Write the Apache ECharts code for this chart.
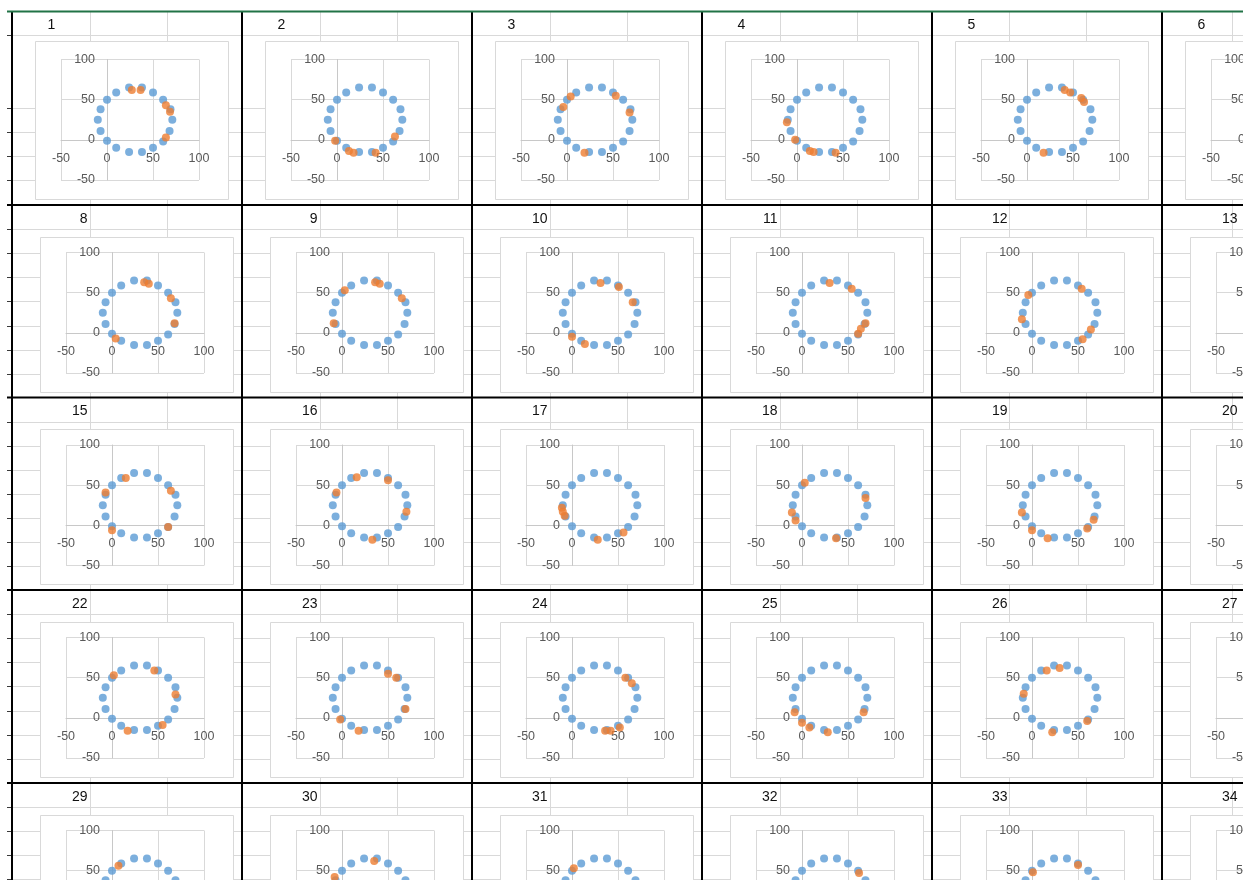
<!DOCTYPE html>
<html>
<head>
<meta charset="utf-8">
<script src="https://cdn.jsdelivr.net/npm/echarts@6/dist/echarts.min.js"></script>
<style>
  html, body { margin: 0; padding: 0; background: #ffffff; }
  #main { width: 1243px; height: 880px; }
</style>
</head>
<body>
<div id="main"></div>
<script>
// ---- data -------------------------------------------------------------
// Tick values shared by both axes of every small chart
const axisTicks = [-50, 0, 50, 100];

// The reference ring of 18 points drawn in every chart
const ringX = [0, 10, 24, 38, 50, 61, 68, 71, 69, 61, 50, 38, 24, 10, 0, -7, -10, -7];
const ringY = [-1, -10, -15, -15, -10, -2, 11, 25, 38, 50, 59, 65, 65, 59, 50, 38, 25, 11];

// Chart numbers, one row of the sheet per line
const chartNumbers = [
  [1, 2, 3, 4, 5, 6],
  [8, 9, 10, 11, 12, 13],
  [15, 16, 17, 18, 19, 20],
  [22, 23, 24, 25, 26, 27],
  [29, 30, 31, 32, 33, 34]
];

// Highlighted samples of each chart, [x, y]
const picks01 = [[27, 62], [36.5, 62], [64, 43], [68.5, 35], [64, 3]];
const picks02 = [[-2, -1], [13, -14], [18, -16], [42, -16], [63, 4]];
const picks03 = [[4, 54], [-4, 41], [53, 55], [68, 34], [19, -16]];
const picks04 = [[-11, 22], [-2, 0], [14, -14], [18, -15], [42, -16]];
const picks05 = [[41, 62], [47, 59], [59, 52], [62, 47], [18, -16]];
const picks06 = [];
const picks08 = [[35, 63], [40, 61], [64, 43], [68, 12], [4, -7]];
const picks09 = [[3, 53], [36, 63], [41, 61], [65, 43], [-9, 12]];
const picks10 = [[31, 62], [51, 57], [66, 38], [0, -5], [14, -14]];
const picks11 = [[30, 62], [54, 55], [69, 12], [64, 5], [61, -1]];
const picks12 = [[-4, 47], [-11, 17], [54, 55], [64, 4], [55, -8]];
const picks13 = [];
const picks15 = [[15, 59], [-7, 41], [64, 43], [61, -2], [0, -6]];
const picks16 = [[16, 60], [50, 56], [-6, 41], [70, 17], [33, -18]];
const picks17 = [[-11, 22], [-10, 17], [-8, 12], [56, -9], [28, -18]];
const picks18 = [[3, 53], [69, 34], [-11, 16], [-7, 6], [37, -16]];
const picks19 = [[-11, 16], [0, -6], [17, -16], [60, -4], [67, 7]];
const picks20 = [];
const picks22 = [[2, 53], [46, 59], [69, 29], [55, -9], [17, -16]];
const picks23 = [[50, 55], [59, 50], [69, 11], [-2, -2], [18, -16]];
const picks24 = [[58, 50], [65, 43], [36, -16], [42, -16], [52, -12]];
const picks25 = [[-8, 7], [0, -6], [8, -12], [28, -18], [67, 7]];
const picks26 = [[16, 59], [30, 62], [-9, 30], [60, -4], [22, -18]];
const picks27 = [];
const picks29 = [[7, 56]];
const picks30 = [[35, 62], [-8, 42]];
const picks31 = [[2, 53]];
const picks32 = [[62, 47]];
const picks33 = [[1, 48], [50, 57]];
const picks34 = [];

const picksByChart = {
  1: picks01, 2: picks02, 3: picks03, 4: picks04, 5: picks05, 6: picks06,
  8: picks08, 9: picks09, 10: picks10, 11: picks11, 12: picks12, 13: picks13,
  15: picks15, 16: picks16, 17: picks17, 18: picks18, 19: picks19, 20: picks20,
  22: picks22, 23: picks23, 24: picks24, 25: picks25, 26: picks26, 27: picks27,
  29: picks29, 30: picks30, 31: picks31, 32: picks32, 33: picks33, 34: picks34
};

// ---- sheet layout -----------------------------------------------------
const W = 1243, H = 880;
const blockLeft = [12, 242, 472, 702, 932, 1162];
const blockTop = [12, 205, 397.5, 590, 783];
const colLines = [[78, 155], [78, 155], [78, 155], [78, 155], [77, 154], [70, 147]];

const GRID_LINE = '#d9d9d9';
const THICK = '#000000';
const FONT = '"Liberation Sans", Arial, sans-serif';

const elements = [];
const px = v => Math.round(v) + 0.5;

function hLine(y, x1, x2, color, width, z) {
  elements.push({ type: 'line', silent: true, z: z,
    shape: { x1: x1, y1: y, x2: x2, y2: y },
    style: { stroke: color, lineWidth: width } });
}
function vLine(x, y1, y2, color, width, z) {
  elements.push({ type: 'line', silent: true, z: z,
    shape: { x1: x, y1: y1, x2: x, y2: y2 },
    style: { stroke: color, lineWidth: width } });
}

// spreadsheet cell lines
blockTop.forEach((bt, r) => {
  const rows = r === 0 ? [23, 96, 120, 144, 168] : [24.1, 48.2, 72.3, 96.4, 120.5, 144.6, 168.7];
  rows.forEach(dy => {
    const y = px(bt + dy);
    hLine(y, 12, W, GRID_LINE, 1, -30);
    hLine(y, 7, 12, '#3a3a3a', 1, -5);
  });
});
blockLeft.forEach((bl, c) => {
  colLines[c].forEach(dx => vLine(px(bl + dx), 12, H, GRID_LINE, 1, -30));
});

// heavy block borders and the top rule
blockLeft.forEach(bl => vLine(bl, 12, H, THICK, 2, 5));
blockTop.slice(1).forEach(bt => hLine(bt, 7, W, THICK, 2, 5));
hLine(11.5, 7, W, '#217346', 2, 6);

// ---- charts -----------------------------------------------------------
const grids = [], xAxes = [], yAxes = [], series = [];
const plotW = 138, plotH = 120.5;
const axMin = axisTicks[0], axMax = axisTicks[axisTicks.length - 1];
// the axes cross at zero, so shift each axis inward from the plot edge
const xAxisShift = -plotH * (0 - axMin) / (axMax - axMin);
const yAxisShift = -plotW * (0 - axMin) / (axMax - axMin);

chartNumbers.forEach((row, r) => {
  row.forEach((num, c) => {
    const idx = grids.length;
    const bl = blockLeft[c], bt = blockTop[r];
    const plotLeft = bl + (r === 0 ? 49 : 54);
    const plotTop = bt + 47.5;

    // chart area frame
    const boxTop = bt + (r === 0 ? 29 : 31.5);
    const boxLeft = plotLeft - 26;
    elements.push({ type: 'rect', silent: true, z: -20,
      shape: { x: px(boxLeft), y: px(boxTop), width: Math.round(plotW + 54.5), height: Math.round(bt + 186.5 - boxTop) },
      style: { fill: '#ffffff', stroke: GRID_LINE, lineWidth: 1 } });

    // chart number in the sheet cell
    elements.push({ type: 'text', silent: true, z: 4,
      x: r === 0 ? bl + 39.5 : bl + 75.5,
      y: r === 0 ? bt + 12.7 : bt + 14,
      style: { text: String(num), fill: '#111111', fontSize: 14, fontFamily: FONT,
        textAlign: r === 0 ? 'center' : 'right', textVerticalAlign: 'middle' } });

    grids.push({ left: plotLeft, top: plotTop, width: plotW, height: plotH,
      outerBoundsMode: 'none', containLabel: false });

    const axisCommon = {
      gridIndex: idx, type: 'value',
      min: axMin, max: axMax,
      interval: axisTicks[1] - axisTicks[0],
      axisLine: { onZero: false, lineStyle: { color: '#c8c8c8', width: 1 } },
      axisTick: { show: false },
      splitLine: { show: true, lineStyle: { color: GRID_LINE, width: 1 } },
      axisLabel: { color: '#595959', fontSize: 12.5, fontFamily: FONT, margin: 12,
        showMinLabel: true, showMaxLabel: true, hideOverlap: false }
    };
    xAxes.push(Object.assign({}, axisCommon, { position: 'bottom', offset: xAxisShift }));
    yAxes.push(Object.assign({}, axisCommon, { position: 'left', offset: yAxisShift }));

    series.push({
      type: 'scatter', xAxisIndex: idx, yAxisIndex: idx, silent: true,
      symbol: 'circle', symbolSize: 8,
      itemStyle: { color: '#5b9bd5' },
      data: ringX.map((x, i) => [x, ringY[i]])
    });
    series.push({
      type: 'scatter', xAxisIndex: idx, yAxisIndex: idx, silent: true,
      symbol: 'circle', symbolSize: 8,
      itemStyle: { color: '#ed7d31' },
      data: picksByChart[num]
    });
  });
});

const chart = echarts.init(document.getElementById('main'), null, { renderer: 'canvas' });
chart.setOption({
  animation: false,
  backgroundColor: '#ffffff',
  grid: grids,
  xAxis: xAxes,
  yAxis: yAxes,
  series: series,
  graphic: { elements: elements }
});
</script>
</body>
</html>
